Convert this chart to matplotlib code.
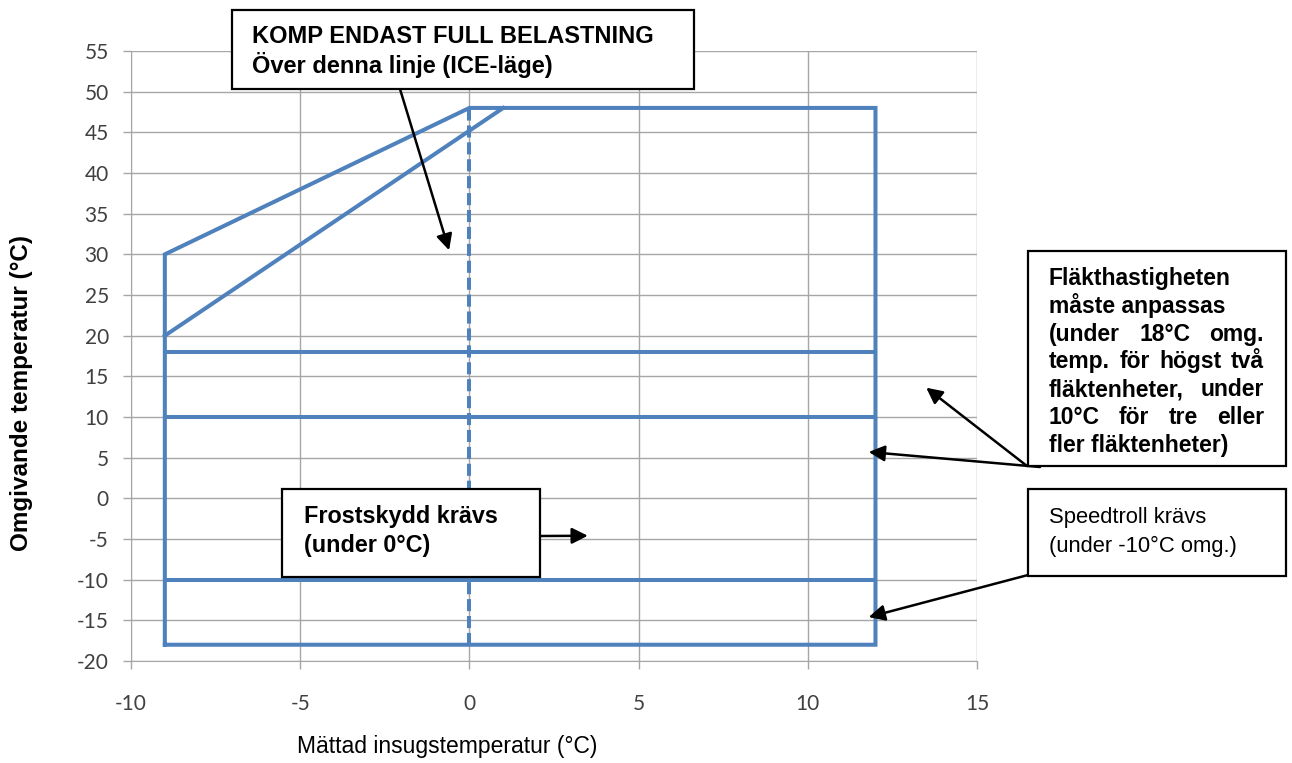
import matplotlib
matplotlib.use("Agg")
import matplotlib.pyplot as plt
from matplotlib.patches import Rectangle

# envelope of the operating range
outline_x = [-9, 12, 12, 0, -9, -9]
outline_y = [-18, -18, 48, 48, 30, -18]

# ICE-mode limit line
ice_x = [-9, 1]
ice_y = [20, 48]

# horizontal limits (fan speed 18 / 10, speedtroll -10)
limit_levels = [18, 10, -10]
limit_x = [-9, 12]

# frost protection line at 0
frost_x = [0, 0]
frost_y = [-18, 48]

x_ticks = [-10, -5, 0, 5, 10, 15]
y_ticks = list(range(-20, 56, 5))

BLUE = "#4F81BD"
GRID = "#A6A6A6"
W, H = 1292, 763
plt.rcParams["axes.unicode_minus"] = False


def fx(px):
    return px / W


def fy(py):
    return 1 - py / H


def draw_box(fig, x0, y0, x1, y1):
    rect = Rectangle((fx(x0), fy(y1)), fx(x1) - fx(x0), fy(y0) - fy(y1),
                     transform=fig.transFigure, facecolor="white",
                     edgecolor="black", linewidth=1.6, zorder=10)
    fig.patches.append(rect)


def box_lines(fig, lines, x0, x1, ytop, step, size, weight, justify=()):
    renderer = fig.canvas.get_renderer()
    for i, line in enumerate(lines):
        y = fy(ytop + i * step)
        words = line.split()
        if i not in justify:
            fig.text(fx(x0), y, line, fontsize=size, fontweight=weight,
                     family="Liberation Sans", va="baseline", zorder=11)
            continue
        items = [fig.text(0, y, w, fontsize=size, fontweight=weight,
                          family="Liberation Sans", va="baseline", zorder=11)
                 for w in words]
        widths = [t.get_window_extent(renderer).width for t in items]
        gap = (x1 - x0 - sum(widths)) / (len(words) - 1)
        pos = x0
        for t, wd in zip(items, widths):
            t.set_x(fx(pos))
            pos += wd + gap


fig = plt.figure(figsize=(12.92, 7.63), dpi=100)
ax = fig.add_axes([fx(131), fy(661), fx(977) - fx(131), fy(51) - fy(661)])

ax.plot(outline_x, outline_y, color=BLUE, lw=2.9, solid_joinstyle="miter", zorder=3)
ax.plot(ice_x, ice_y, color=BLUE, lw=2.9, zorder=3)
for lvl in limit_levels:
    ax.plot(limit_x, [lvl, lvl], color=BLUE, lw=2.9, zorder=3)
ax.plot(frost_x, frost_y, color=BLUE, lw=2.9, dashes=(3, 1.2), zorder=3)

ax.set_xlim(-10, 15)
ax.set_ylim(-20, 55)
ax.set_xticks(x_ticks)
ax.set_yticks(y_ticks)
ax.grid(True, color=GRID, lw=1)
ax.set_axisbelow(True)
for s in ["top", "right"]:
    ax.spines[s].set_visible(False)
for s in ["left", "bottom"]:
    ax.spines[s].set_color(GRID)
ax.tick_params(colors=GRID, length=6, width=1, labelcolor="#404040",
               labelsize=15)
for lbl in ax.get_xticklabels() + ax.get_yticklabels():
    lbl.set_family("Lato")
ax.tick_params(axis="x", pad=18)
ax.tick_params(axis="y", pad=10)

fig.text(fx(447), fy(747), "Mättad insugstemperatur (°C)", ha="center",
         va="center", fontsize=16.5, family="Liberation Sans")
fig.text(fx(22), fy(393), "Omgivande temperatur (°C)", ha="center",
         va="center", rotation=90, fontsize=17.5, fontweight="bold",
         family="Liberation Sans")

arrow = dict(arrowstyle="-|>", color="black", lw=1.8, mutation_scale=24,
             shrinkA=0, shrinkB=0)

# box 1: ICE mode
draw_box(fig, 232, 10, 694, 89)
box_lines(fig, ["KOMP ENDAST FULL BELASTNING", "Över denna linje (ICE-läge)"],
          252, 660, 43, 30, 17, "bold")
ax.annotate("", xy=(-0.6, 30.5), xycoords="data",
            xytext=(fx(400), fy(89)), textcoords="figure fraction",
            arrowprops=arrow, zorder=9, annotation_clip=False)

# box 2: frost protection
draw_box(fig, 282, 489, 540, 577)
box_lines(fig, ["Frostskydd krävs", "(under 0°C)"],
          304, 520, 523, 29, 16.8, "bold")
ax.annotate("", xy=(3.5, -4.6), xycoords="data",
            xytext=(fx(540), fy(536)), textcoords="figure fraction",
            arrowprops=arrow, zorder=9, annotation_clip=False)

# box 3: fan speed
draw_box(fig, 1028, 251, 1286, 466)
fan_lines = ["Fläkthastigheten", "måste anpassas", "(under 18°C omg.",
             "temp. för högst två", "fläktenheter, under",
             "10°C för tre eller", "fler fläktenheter)"]
box_lines(fig, fan_lines, 1049, 1264, 285, 27.8, 16.5, "bold",
          justify=(2, 3, 4, 5))
ax.annotate("", xy=(13.5, 13.6), xycoords="data",
            xytext=(fx(1027), fy(466)), textcoords="figure fraction",
            arrowprops=arrow, zorder=9, annotation_clip=False)
ax.annotate("", xy=(11.8, 5.7), xycoords="data",
            xytext=(fx(1040), fy(467)), textcoords="figure fraction",
            arrowprops=arrow, zorder=9, annotation_clip=False)

# box 4: speedtroll
draw_box(fig, 1028, 489, 1286, 576)
box_lines(fig, ["Speedtroll krävs", "(under -10°C omg.)"],
          1049, 1264, 523, 29, 15.8, "normal")
ax.annotate("", xy=(11.8, -14.6), xycoords="data",
            xytext=(fx(1028), fy(575)), textcoords="figure fraction",
            arrowprops=arrow, zorder=9, annotation_clip=False)

fig.savefig("out.png", dpi=100)
